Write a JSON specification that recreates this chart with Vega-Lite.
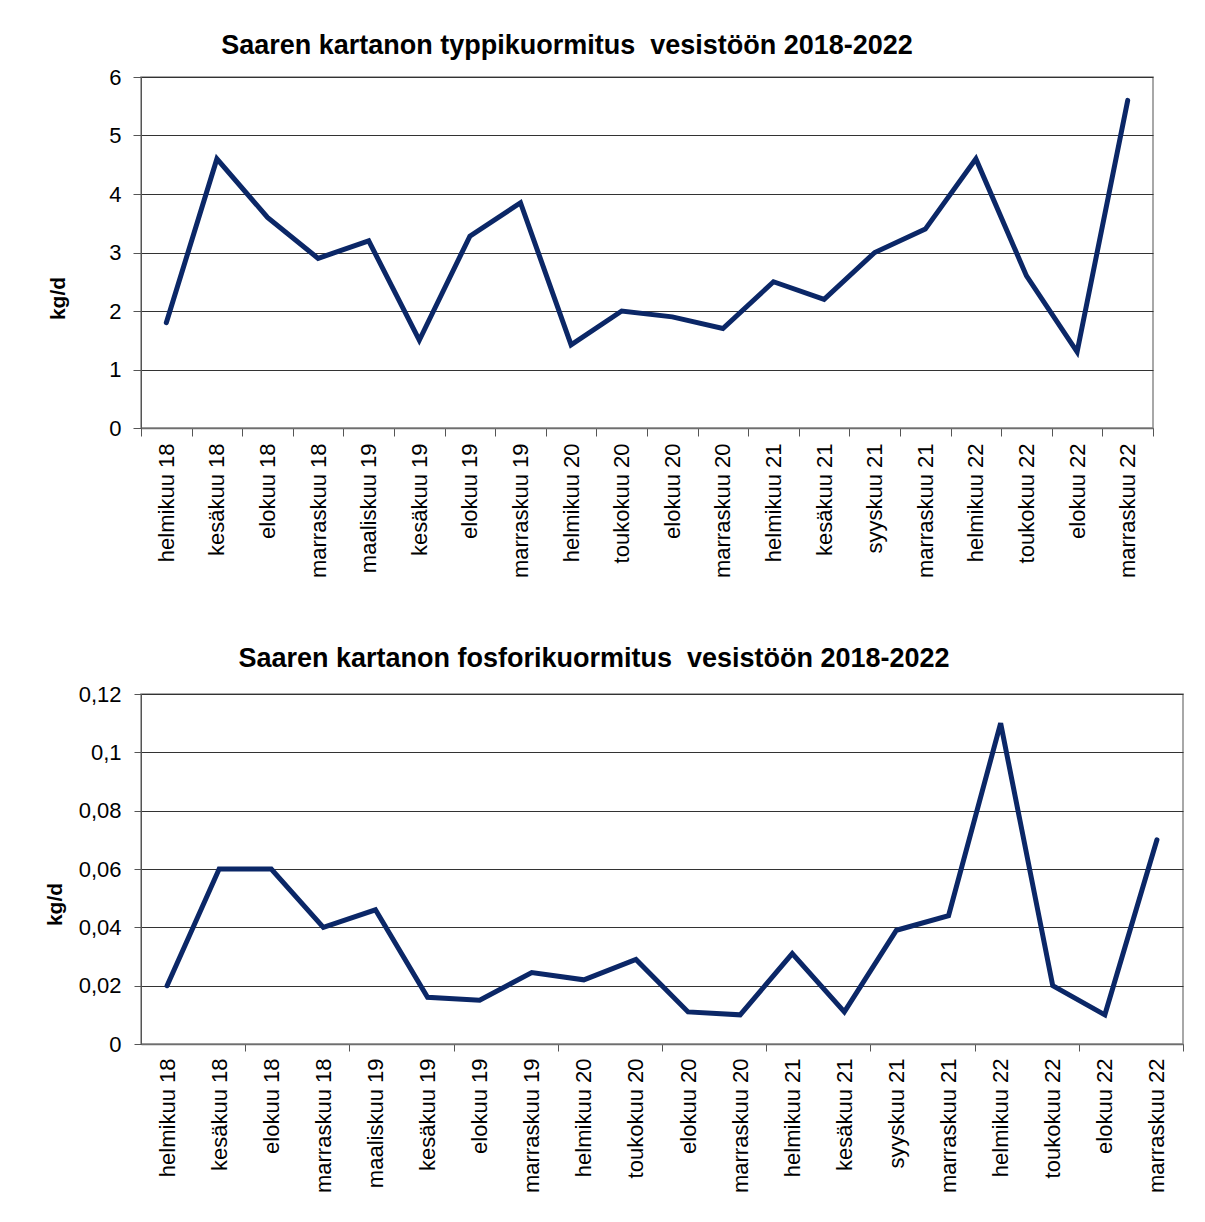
{
  "$schema": "https://vega.github.io/schema/vega-lite/v6.json",
  "background": "white",
  "padding": {"left": 43, "top": 31, "right": 10, "bottom": 10},
  "spacing": 65,
  "config": {
    "font": "Liberation Sans",
    "view": {"stroke": "#8c8c8c", "strokeWidth": 1.5},
    "axis": {
      "labelFont": "Liberation Sans",
      "labelColor": "#000000",
      "titleFont": "Liberation Sans",
      "titleColor": "#000000",
      "domainColor": "#555555",
      "tickColor": "#555555",
      "gridColor": "#333333",
      "gridWidth": 1
    },
    "title": {"font": "Liberation Sans", "fontSize": 27, "fontWeight": "bold", "color": "#000000"},
    "line": {"color": "#0b2767", "strokeWidth": 5, "strokeCap": "round", "strokeJoin": "miter"}
  },
  "datasets": {
    "typpi": [
      {"kuukausi": "helmikuu 18", "kg_d": 1.8},
      {"kuukausi": "kesäkuu 18", "kg_d": 4.6},
      {"kuukausi": "elokuu 18", "kg_d": 3.6},
      {"kuukausi": "marraskuu 18", "kg_d": 2.9},
      {"kuukausi": "maaliskuu 19", "kg_d": 3.2},
      {"kuukausi": "kesäkuu 19", "kg_d": 1.5},
      {"kuukausi": "elokuu 19", "kg_d": 3.28},
      {"kuukausi": "marraskuu 19", "kg_d": 3.85},
      {"kuukausi": "helmikuu 20", "kg_d": 1.42},
      {"kuukausi": "toukokuu 20", "kg_d": 2.0},
      {"kuukausi": "elokuu 20", "kg_d": 1.9},
      {"kuukausi": "marraskuu 20", "kg_d": 1.7},
      {"kuukausi": "helmikuu 21", "kg_d": 2.5},
      {"kuukausi": "kesäkuu 21", "kg_d": 2.2},
      {"kuukausi": "syyskuu 21", "kg_d": 3.0},
      {"kuukausi": "marraskuu 21", "kg_d": 3.4},
      {"kuukausi": "helmikuu 22", "kg_d": 4.6},
      {"kuukausi": "toukokuu 22", "kg_d": 2.6},
      {"kuukausi": "elokuu 22", "kg_d": 1.3},
      {"kuukausi": "marraskuu 22", "kg_d": 5.6}
    ],
    "fosfori": [
      {"kuukausi": "helmikuu 18", "kg_d": 0.02},
      {"kuukausi": "kesäkuu 18", "kg_d": 0.06},
      {"kuukausi": "elokuu 18", "kg_d": 0.06},
      {"kuukausi": "marraskuu 18", "kg_d": 0.04},
      {"kuukausi": "maaliskuu 19", "kg_d": 0.046},
      {"kuukausi": "kesäkuu 19", "kg_d": 0.016},
      {"kuukausi": "elokuu 19", "kg_d": 0.015},
      {"kuukausi": "marraskuu 19", "kg_d": 0.0245},
      {"kuukausi": "helmikuu 20", "kg_d": 0.022},
      {"kuukausi": "toukokuu 20", "kg_d": 0.029},
      {"kuukausi": "elokuu 20", "kg_d": 0.011},
      {"kuukausi": "marraskuu 20", "kg_d": 0.01},
      {"kuukausi": "helmikuu 21", "kg_d": 0.031},
      {"kuukausi": "kesäkuu 21", "kg_d": 0.011},
      {"kuukausi": "syyskuu 21", "kg_d": 0.039},
      {"kuukausi": "marraskuu 21", "kg_d": 0.044},
      {"kuukausi": "helmikuu 22", "kg_d": 0.11},
      {"kuukausi": "toukokuu 22", "kg_d": 0.02},
      {"kuukausi": "elokuu 22", "kg_d": 0.01},
      {"kuukausi": "marraskuu 22", "kg_d": 0.07}
    ]
  },
  "vconcat": [
    {
      "data": {"name": "typpi"},
      "width": 1012,
      "height": 351,
      "title": {"text": "Saaren kartanon typpikuormitus\u00a0 vesistöön 2018-2022", "dx": -80, "offset": 6},
      "mark": {"type": "line"},
      "encoding": {
        "x": {
          "field": "kuukausi",
          "type": "nominal",
          "sort": null,
          "scale": {"type": "band", "paddingInner": 0, "paddingOuter": 0},
          "axis": {
            "title": null,
            "labelAngle": -90,
            "labelFontSize": 22,
            "labelOverlap": false,
            "tickBand": "extent",
            "tickSize": 8,
            "labelPadding": 7,
            "domainColor": "#6e6e6e",
            "domainWidth": 1.5
          }
        },
        "y": {
          "field": "kg_d",
          "type": "quantitative",
          "scale": {"domain": [0, 6], "nice": false},
          "axis": {
            "title": "kg/d",
            "values": [0, 1, 2, 3, 4, 5, 6],
            "grid": true,
            "labelFlush": false,
            "labelFontSize": 22,
            "tickSize": 8,
            "labelPadding": 12,
            "titleFontSize": 21,
            "titleFontWeight": "bold",
            "titleX": -83,
            "titleY": 221,
            "titleBaseline": "middle",
            "labelExpr": "replace(format(datum.value, '~g'), '.', ',')"
          }
        }
      }
    },
    {
      "data": {"name": "fosfori"},
      "width": 1042,
      "height": 350,
      "title": {"text": "Saaren kartanon fosforikuormitus\u00a0 vesistöön 2018-2022", "dx": -68, "offset": 10},
      "mark": {"type": "line"},
      "encoding": {
        "x": {
          "field": "kuukausi",
          "type": "nominal",
          "sort": null,
          "scale": {"type": "band", "paddingInner": 0, "paddingOuter": 0},
          "axis": {
            "title": null,
            "labelAngle": -90,
            "labelFontSize": 22,
            "labelOverlap": false,
            "tickBand": "extent",
            "tickSize": 7,
            "labelPadding": 7,
            "tickOpacity": {
              "condition": {
                "test": "indexof(['kesäkuu 18', 'marraskuu 18', 'kesäkuu 19', 'marraskuu 19', 'toukokuu 20', 'marraskuu 20', 'kesäkuu 21', 'marraskuu 21', 'toukokuu 22', 'marraskuu 22'], datum.value) >= 0",
                "value": 1
              },
              "value": 0
            },
            "domainColor": "#6e6e6e",
            "domainWidth": 1.5
          }
        },
        "y": {
          "field": "kg_d",
          "type": "quantitative",
          "scale": {"domain": [0, 0.12], "nice": false},
          "axis": {
            "title": "kg/d",
            "values": [0, 0.02, 0.04, 0.06, 0.08, 0.1, 0.12],
            "grid": true,
            "labelFlush": false,
            "labelFontSize": 22,
            "tickSize": 7,
            "labelPadding": 13,
            "titleFontSize": 21,
            "titleFontWeight": "bold",
            "titleX": -86,
            "titleY": 210,
            "titleBaseline": "middle",
            "labelExpr": "replace(format(datum.value, '~g'), '.', ',')"
          }
        }
      }
    }
  ]
}
